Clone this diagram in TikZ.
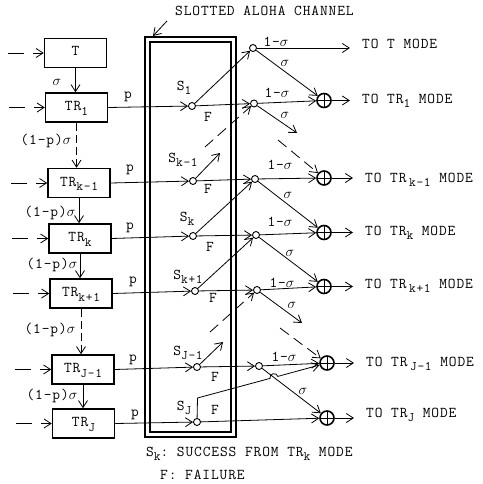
\documentclass[tikz,border=0pt]{standalone}
\usepackage{fontspec}
\setmonofont{Latin Modern Mono}[LetterSpace=6]
\usetikzlibrary{arrows.meta,calc}
\newcommand\dn[1]{\raisebox{-0.7ex}{\fontsize{13}{13}\selectfont #1}}
\newcommand\sg{$\sigma$}
\begin{document}
\begin{tikzpicture}[x=1pt,y=-1pt,
  every node/.style={font=\ttfamily\fontsize{15}{15}\selectfont, inner sep=0pt},
  arr/.style={-{Straight Barb[length=7pt,width=9pt]}, line width=0.8pt},
  box/.style={draw, line width=1.5pt, minimum width=62pt, minimum height=29pt, text height=9pt, text depth=3pt},
  dot/.style={circle, draw, fill=white, line width=0.9pt, minimum size=7pt},
  plus/.style={circle, draw, line width=1.6pt, minimum size=14pt,
    path picture={\draw[line width=1pt] (path picture bounding box.north) -- (path picture bounding box.south)
      (path picture bounding box.west) -- (path picture bounding box.east);}},
  lbl/.style={text height=9pt, text depth=3pt},
  dsh/.style={dash pattern=on 11pt off 6pt},
  vdsh/.style={dash pattern=on 8pt off 4pt},
  indsh/.style={dash pattern=on 16pt off 9pt},
]
\useasboundingbox (0,0) rectangle (482,484);

% channel
\draw[line width=1.5pt] (145,37) rectangle (236,437);
\draw[line width=1.5pt] (150,42) rectangle (231,432);
\node[lbl, anchor=west] (title) at (175,13) {SLOTTED ALOHA CHANNEL};
\coordinate (ta) at (167,21);
\coordinate (tb) at (153,36);
\draw[arr] (ta) -- (tb);

% boxes
\node[box] (bT)  at (75.5,53)  {T};
\node[box] (b1)  at (76.5,107.5) {TR\dn{1}};
\node[box] (bkm) at (79,183)   {TR\dn{k-1}};
\node[box] (bk)  at (80,238.5) {TR\dn{k}};
\node[box] (bkp) at (81,293.5) {TR\dn{k+1}};
\node[box] (bJm) at (83,369.5) {TR\dn{J-1}};
\node[box] (bJ)  at (83.5,423.5) {TR\dn{J}};

% inputs
\foreach \b in {bT,b1,bkm,bk,bkp,bJm,bJ}{
  \coordinate (i\b) at ($(\b.west)+(-36,0)$);
  \draw[arr, indsh] (i\b) -- (\b.west);
}

% vertical transitions
\draw[arr] (bT.south) -- (bT.south |- b1.north);
\draw[arr, vdsh] (b1.south) -- (b1.south |- bkm.north);
\draw[arr] (bkm.south) -- (bkm.south |- bk.north);
\draw[arr] (bk.south) -- (bk.south |- bkp.north);
\draw[arr, vdsh] (bkp.south) -- (bkp.south |- bJm.north);
\draw[arr] (bJm.south) -- (bJm.south |- bJ.north);

\node (lsig) at (57,82) {\sg};
\node (lq1)  at (46,141) {(1-p)\sg};
\node (lq2)  at (50,213) {(1-p)\sg};
\node (lq3)  at (52,265) {(1-p)\sg};
\node (lq4)  at (50,330) {(1-p)\sg};
\node (lq5)  at (52,396) {(1-p)\sg};

% S nodes
\node[dot] (s1)  at (192,106) {};
\node[dot] (skm) at (193,181) {};
\node[dot] (sk)  at (193,236) {};
\node[dot] (skp) at (195,291) {};
\node[dot] (sJm) at (197,367) {};
\node[dot] (sJ)  at (197,422) {};

\draw[arr] (b1.east) -- (s1);
\draw[arr] (bkm.east) -- (skm);
\draw[arr] (bk.east) -- (sk);
\draw[arr] (bkp.east) -- (skp);
\draw[arr] (bJm.east) -- (sJm);
\draw[arr] (bJ.east) -- (sJ);

\node (lp1)  at (128,97)  {p};
\node (lp2)  at (130,170) {p};
\node (lp3)  at (130,228) {p};
\node (lp4)  at (133,282) {p};
\node (lp5)  at (133,360) {p};
\node (lp6)  at (135,415) {p};

% branch nodes
\node[dot] (nT)  at (253,48)  {};
\node[dot] (n1)  at (254,103.5) {};
\node[dot] (nkm) at (255,179) {};
\node[dot] (nk)  at (256,235) {};
\node[dot] (nkp) at (257,290) {};
\node[dot] (nJm) at (259,366) {};

% plus nodes
\node[plus] (p1)  at (324,100.5) {};
\node[plus] (pkm) at (324,178) {};
\node[plus] (pk)  at (324,232.5) {};
\node[plus] (pkp) at (324,286.5) {};
\node[plus] (pJm) at (327,363) {};
\node[plus] (pJ)  at (327,418) {};

% right texts
\node[lbl, anchor=west] (tT)  at (362,46)  {TO T MODE};
\node[lbl, anchor=west] (t1)  at (362,100) {TO TR\dn{1} MODE};
\node[lbl, anchor=west] (tkm) at (365,179) {TO TR\,\dn{k-1} MODE};
\node[lbl, anchor=west] (tk)  at (365,232) {TO TR\dn{k} MODE};
\node[lbl, anchor=west] (tkp) at (365,285) {TO TR\,\dn{k+1} MODE};
\node[lbl, anchor=west] (tJm) at (366,363) {TO TR\,\dn{J-1} MODE};
\node[lbl, anchor=west] (tJ)  at (366,414) {TO TR\dn{J} MODE};

\draw[arr, shorten >=12pt] (nT) -- (nT -| tT.west);
\foreach \p/\t in {p1/t1,pkm/tkm,pk/tk,pkp/tkp,pJm/tJm,pJ/tJ}{
  \draw[arr, shorten >=12pt] (\p) -- (\p -| \t.west);
}

% channel outcomes
\draw[arr] (s1) -- (nT);
\draw[arr] (s1) -- (n1);
\draw[arr] (nT) -- (p1);
\draw[arr] (n1) -- (p1);
\coordinate (e1) at (297,133);
\draw[arr] (n1) -- (e1);
\coordinate (d1) at (278,140);
\draw[arr, dsh] (d1) -- (pkm);
\coordinate (u1) at (205,147);
\draw[arr, dsh] (u1) -- (n1);

\coordinate (ekm) at (220,153);
\draw[arr] (skm) -- (ekm);
\draw[arr] (skm) -- (nkm);
\draw[arr] (nkm) -- (pkm);
\draw[arr] (nkm) -- (pk);

\draw[arr] (sk) -- (nkm);
\draw[arr] (sk) -- (nk);
\draw[arr] (nk) -- (pk);
\draw[arr] (nk) -- (pkp);

\draw[arr] (skp) -- (nk);
\draw[arr] (skp) -- (nkp);
\draw[arr] (nkp) -- (pkp);
\coordinate (ekp) at (302,323);
\draw[arr] (nkp) -- (ekp);
\coordinate (dkp) at (280,328);
\draw[arr, dsh] (dkp) -- (pJm);
\coordinate (ukp) at (210,332);
\draw[arr, dsh] (ukp) -- (nkp);

\coordinate (eJm) at (223,342);
\draw[arr] (sJm) -- (eJm);
\draw[arr] (sJm) -- (nJm);
\draw[arr] (nJm) -- (pJm);
\draw[arr] (nJm) -- (pJ);

\coordinate (bend) at (197.5,398);
\coordinate (h1) at (270.0,378.4);
\coordinate (h2) at (277.8,376.4);
\draw[arr] (sJ) -- (bend) -- (h1) .. controls +(-1.3,-4.8) and +(-1.3,-4.8) .. (h2) -- (pJm);
\draw[arr] (sJ) -- (pJ);

% channel labels
\node (ls1)  at (184,88)  {S\dn{1}};
\node (lf1)  at (208,117) {F};
\node (lskm) at (183,160) {S\dn{k-1}};
\node (lfkm) at (208,189) {F};
\node (lsk)  at (187,219) {S\dn{k}};
\node (lfk)  at (210,247) {F};
\node (lskp) at (188,277) {S\dn{k+1}};
\node (lfkp) at (213,298) {F};
\node (lsJm) at (188,353) {S\dn{J-1}};
\node (lfJm) at (215,377) {F};
\node (lsJ)  at (184,408) {S\dn{J}};
\node (lfJ)  at (215,410) {F};

% branch labels
\node (a1) at (276,42)  {1-\sg};
\node (a2) at (285,63)  {\sg};
\node (a3) at (277,93)  {1-\sg};
\node (a4) at (285,115) {\sg};
\node (a5) at (280,165) {1-\sg};
\node (a6) at (288,195) {\sg};
\node (a7) at (280,222) {1-\sg};
\node (a8) at (290,253) {\sg};
\node (a9) at (282,283) {1-\sg};
\node (a10) at (292,305) {\sg};
\node (a11) at (284,357) {1-\sg};
\node (a12) at (303,391) {\sg};

% legend
\node[lbl, anchor=west] (leg1) at (146,453) {S\dn{k}: SUCCESS FROM TR\dn{k} MODE};
\node[lbl, anchor=west] (leg2) at (160,476) {F: FAILURE};
\end{tikzpicture}
\end{document}
